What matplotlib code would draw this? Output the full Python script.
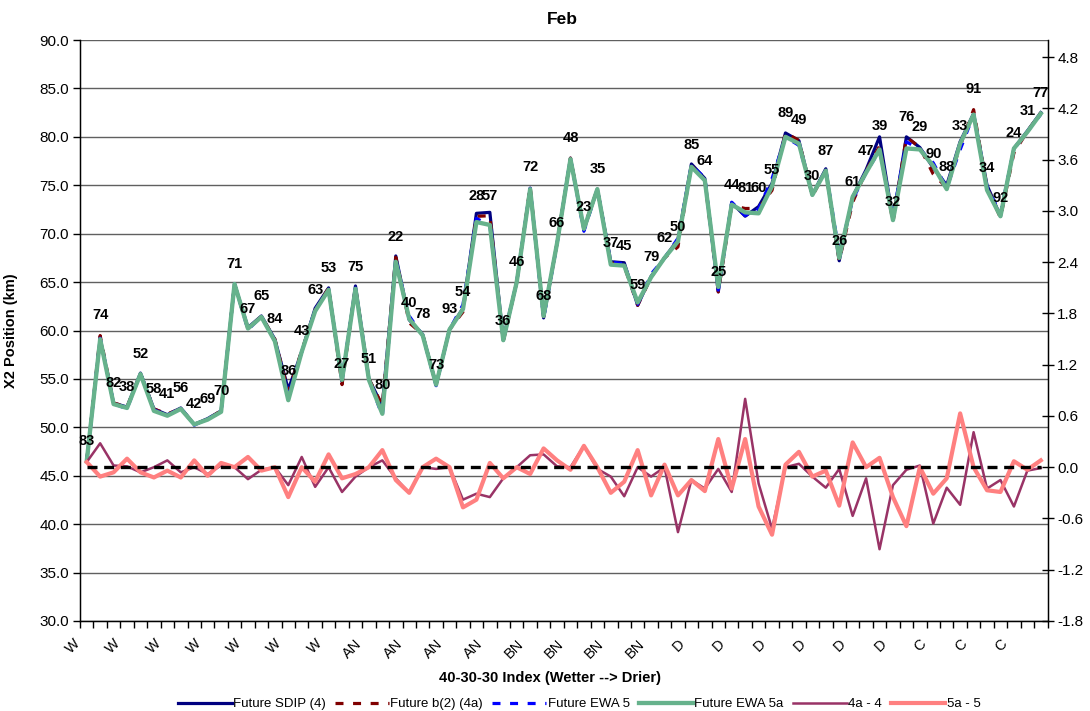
import numpy as np
import matplotlib
matplotlib.use("Agg")
import matplotlib.pyplot as plt
from matplotlib.transforms import ScaledTranslation

plt.rcParams['font.family'] = ['Liberation Sans', 'DejaVu Sans']

# ---------------- data ----------------
year_labels = [83, 74, 82, 38, 52, 58, 41, 56, 42, 69, 70, 71, 67, 65, 84, 86, 43, 63, 53, 27,
               75, 51, 80, 22, 40, 78, 73, 93, 54, 28, 57, 36, 46, 72, 68, 66, 48, 23, 35, 37,
               45, 59, 79, 62, 50, 85, 64, 25, 44, 81, 60, 55, 89, 49, 30, 87, 26, 61, 47, 39,
               32, 76, 29, 90, 88, 33, 91, 34, 92, 24, 31, 77]

category_labels = ['W'] * 7 + ['AN'] * 4 + ['BN'] * 4 + ['D'] * 6 + ['C'] * 3

sdip_4 = [46.5, 59.2, 52.5, 52.1, 55.6, 51.9, 51.3, 52.0, 50.3, 50.9,
          51.7, 64.8, 60.3, 61.5, 59.1, 53.9, 57.8, 62.3, 64.4, 54.7,
          64.6, 55.0, 52.2, 67.7, 61.1, 59.6, 54.4, 60.1, 62.3, 72.1,
          72.2, 59.0, 65.0, 74.7, 61.3, 69.0, 77.8, 70.4, 74.6, 67.1,
          67.0, 62.6, 65.6, 67.5, 69.4, 77.2, 75.7, 64.0, 73.2, 71.8,
          72.8, 75.2, 80.4, 79.6, 74.0, 76.7, 67.2, 73.8, 76.6, 80.0,
          71.4, 80.0, 78.9, 76.8, 75.0, 79.5, 82.4, 75.0, 71.8, 78.8,
          80.6, 82.5]

b2_4a = [46.56, 59.48, 52.52, 52.11, 55.54, 51.9, 51.38, 51.94, 50.3, 50.82,
         51.72, 64.8, 60.16, 61.47, 59.1, 53.69, 57.92, 62.07, 64.4, 54.41,
         64.49, 55.0, 52.28, 67.57, 60.8, 59.6, 54.38, 60.1, 61.92, 71.79,
         71.85, 58.87, 65.0, 74.84, 61.45, 69.01, 77.8, 70.65, 74.58, 66.99,
         66.66, 62.6, 65.49, 67.5, 68.64, 77.05, 75.45, 63.98, 72.91, 72.6,
         72.61, 74.48, 80.4, 79.64, 73.89, 76.46, 67.18, 73.23, 76.47, 79.04,
         71.19, 79.97, 78.92, 76.14, 74.76, 79.06, 82.81, 74.75, 71.65, 78.34,
         80.56, 82.49]

ewa_5 = [46.44, 59.21, 52.46, 51.9, 55.56, 51.82, 51.24, 52.02, 50.22, 50.9,
         51.55, 64.8, 60.08, 61.44, 58.9, 53.15, 57.8, 62.17, 64.05, 55.03,
         64.38, 54.9, 51.2, 67.25, 61.5, 59.5, 54.3, 60.1, 62.67, 71.58,
         70.85, 59.13, 65.0, 74.68, 61.28, 68.92, 77.73, 70.25, 74.6, 67.1,
         66.87, 62.7, 65.83, 67.47, 69.53, 77.05, 75.78, 64.17, 73.25, 71.87,
         72.56, 75.69, 79.97, 79.12, 74.11, 76.54, 67.95, 73.51, 76.3, 78.59,
         71.75, 79.49, 78.7, 77.31, 74.73, 78.67, 82.3, 74.77, 72.09, 78.73,
         80.53, 82.32]

ewa_5a = [46.5, 59.1, 52.4, 52.0, 55.5, 51.7, 51.2, 51.9, 50.3, 50.8,
          51.6, 64.8, 60.2, 61.4, 58.9, 52.8, 57.8, 62.0, 64.2, 54.9,
          64.3, 54.9, 51.4, 67.1, 61.2, 59.5, 54.4, 60.1, 62.2, 71.2,
          70.9, 59.0, 65.0, 74.6, 61.5, 69.0, 77.7, 70.5, 74.6, 66.8,
          66.7, 62.9, 65.5, 67.5, 69.2, 76.9, 75.5, 64.5, 73.0, 72.2,
          72.1, 74.9, 80.0, 79.3, 74.0, 76.5, 67.5, 73.8, 76.3, 78.7,
          71.4, 78.8, 78.7, 77.0, 74.6, 79.3, 82.3, 74.5, 71.8, 78.8,
          80.5, 82.4]

diff_4a_4 = [0.06, 0.28, 0.02, 0.01, -0.06, 0.0, 0.08, -0.06, 0.0, -0.08,
             0.02, 0.0, -0.14, -0.03, 0.0, -0.21, 0.12, -0.23, 0.0, -0.29,
             -0.11, 0.0, 0.08, -0.13, -0.30, 0.0, -0.02, 0.0, -0.38, -0.31,
             -0.35, -0.13, 0.0, 0.14, 0.15, 0.01, 0.0, 0.25, -0.02, -0.11,
             -0.34, 0.0, -0.11, 0.0, -0.76, -0.15, -0.25, -0.02, -0.29, 0.80,
             -0.19, -0.72, 0.0, 0.04, -0.11, -0.24, -0.02, -0.57, -0.13, -0.96,
             -0.21, -0.03, 0.02, -0.66, -0.24, -0.44, 0.41, -0.25, -0.15, -0.46,
             -0.04, -0.01]

diff_5a_5 = [0.06, -0.11, -0.06, 0.10, -0.06, -0.12, -0.04, -0.12, 0.08, -0.10,
             0.05, 0.0, 0.12, -0.04, 0.0, -0.35, 0.0, -0.17, 0.15, -0.13,
             -0.08, 0.0, 0.20, -0.15, -0.30, 0.0, 0.10, 0.0, -0.47, -0.38,
             0.05, -0.13, 0.0, -0.08, 0.22, 0.08, -0.03, 0.25, 0.0, -0.30,
             -0.17, 0.20, -0.33, 0.03, -0.33, -0.15, -0.28, 0.33, -0.25, 0.33,
             -0.46, -0.79, 0.03, 0.18, -0.11, -0.04, -0.45, 0.29, 0.0, 0.11,
             -0.35, -0.69, 0.0, -0.31, -0.13, 0.63, 0.0, -0.27, -0.29, 0.07,
             -0.03, 0.08]

zero_line = [0.0] * 72

left_ticks = [30.0, 35.0, 40.0, 45.0, 50.0, 55.0, 60.0, 65.0, 70.0, 75.0, 80.0, 85.0, 90.0]
right_ticks = [-1.8, -1.2, -0.6, 0.0, 0.6, 1.2, 1.8, 2.4, 3.0, 3.6, 4.2, 4.8]

# ---------------- figure ----------------
W, H = 1090, 711
fig = plt.figure(figsize=(W / 100, H / 100), dpi=100)
L, R, T, B = 80, 1047.5, 40, 621
ax = fig.add_axes([L / W, 1 - B / H, (R - L) / W, (B - T) / H])

x = np.arange(1, len(sdip_4) + 1)

ax.set_xlim(0.5, len(x) + 0.5)
ax.set_ylim(30, 90)
ax.set_yticks(left_ticks)
ax.set_yticklabels([f'{v:.1f}' for v in left_ticks])
ax.yaxis.grid(True, color='#606060', lw=1.0)
ax.set_axisbelow(True)
ax.tick_params(axis='y', direction='out', length=5, width=1, labelsize=11, pad=3)

# category axis
ax.set_xticks(np.arange(1, len(x) + 1, 3))
ax.set_xticklabels(category_labels, rotation=45, ha='right', va='center',
                   rotation_mode='anchor', fontsize=10.5)
ax.set_xticks(np.arange(0.5, len(x) + 1, 1), minor=True)
ax.tick_params(axis='x', which='major', length=0, pad=15)
ax.tick_params(axis='x', which='minor', direction='out', length=5, width=1)
for lab in ax.get_xticklabels():
    lab.set_transform(lab.get_transform() + ScaledTranslation(-9 / 100, 0, fig.dpi_scale_trans))

ax.spines['top'].set_visible(False)
for s in ['left', 'bottom']:
    ax.spines[s].set_color('black')
    ax.spines[s].set_linewidth(1.0)

ax.plot(x, sdip_4, color='#000080', lw=2.3, label='Future SDIP (4)', zorder=3)
ax.plot(x, b2_4a, color='#800000', lw=2.3, ls=(0, (2.5, 3)), label='Future b(2) (4a)', zorder=4)
ax.plot(x, ewa_5, color='#0000FF', lw=2.3, ls=(0, (2.5, 3)), label='Future EWA 5', zorder=5)
ax.plot(x, ewa_5a, color='#66B28C', lw=3.1, label='Future EWA 5a', zorder=6)

ax.set_ylabel('X2 Position (km)', fontsize=10.5, fontweight='bold')
ax.yaxis.set_label_coords((18 - L) / (R - L), 0.5)

# secondary axis
ax2 = ax.twinx()
ax2.set_ylim(-1.8, 5.0)
ax2.set_yticks(right_ticks)
ax2.set_yticklabels([f'{v:.1f}' for v in right_ticks])
ax2.tick_params(axis='y', direction='inout', length=8, width=1, labelsize=11, pad=3)
ax2.spines['top'].set_visible(False)
ax2.spines['right'].set_color('black')
ax2.spines['right'].set_linewidth(1.0)

ax2.plot(x, diff_4a_4, color='#993366', lw=1.8, label='4a - 4', zorder=3)
ax2.plot(x, diff_5a_5, color='#FF8080', lw=3.0, label='5a - 5', zorder=4)
ax2.plot(x, zero_line, color='black', lw=2.4, ls=(0, (3, 2)), zorder=5)

# data labels (year numbers)
for xi, yi, lab in zip(x, b2_4a, year_labels):
    ax2.annotate(str(lab), xy=(xi, yi), xycoords=ax.transData,
                 xytext=(0, 14.5), textcoords='offset points',
                 ha='center', va='center', fontsize=10.5, fontweight='bold',
                 color='black', zorder=10)

# titles
fig.text(562 / W, 1 - 20 / H, 'Feb', ha='center', va='center', fontsize=12.5, fontweight='bold')
fig.text(550 / W, 1 - 678 / H, '40-30-30 Index (Wetter --> Drier)', ha='center', va='center',
         fontsize=10.5, fontweight='bold')

# legend
h1, l1 = ax.get_legend_handles_labels()
h2, l2 = ax2.get_legend_handles_labels()
fig.legend(h1 + h2, l1 + l2, loc='center', bbox_to_anchor=(579 / W, 1 - 704 / H), ncol=6,
           frameon=False, fontsize=9.5, handlelength=4.1, handletextpad=0.1,
           columnspacing=0.7)

fig.savefig('out.png', dpi=100)
